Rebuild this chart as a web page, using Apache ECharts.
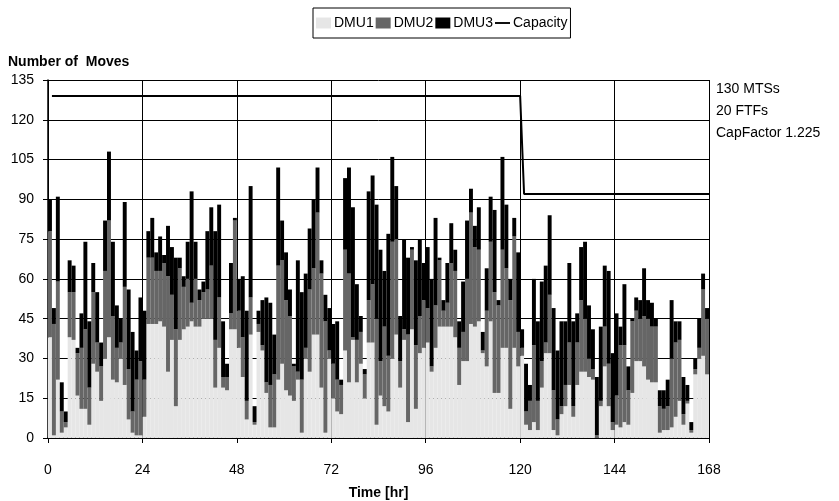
<!DOCTYPE html>
<html><head><meta charset="utf-8">
<script src="https://cdn.jsdelivr.net/npm/echarts@6/dist/echarts.min.js"></script>
<style>html,body{margin:0;padding:0;background:#fff}#c{width:839px;height:501px}</style>
</head><body><div id="c"></div>
<script>
const hours = Array.from({length:168}, (_, i) => String(i));
const xTicks = [0, 24, 48, 72, 96, 120, 144, 168];
const yTicks = [0, 15, 30, 45, 60, 75, 90, 105, 120, 135];
const dmu1 = [38,1,22,2,4,38,37,16,11,11,5,28,25,14,30,38,22,21,30,20,7,2,1,1,8,43,43,43,44,42,
25,37,12,37,41,42,44,42,42,45,45,45,19,34,19,18,41,41,34,23,7,39,5,40,33,17,4,4,22,28,
18,16,14,22,2,30,25,39,39,19,2,30,15,10,9,33,21,37,21,28,15,36,36,5,16,12,10,30,39,19,
37,6,41,11,32,34,36,25,34,42,42,42,42,38,20,29,29,43,42,44,32,27,44,17,17,34,34,11,34,27,
31,5,3,6,3,19,32,32,3,1,9,12,20,8,20,25,25,23,22,0,12,27,12,3,5,4,6,5,17,29,
29,27,22,21,21,2,3,3,4,8,14,5,13,2,24,30,31,24];
const dmu2 = [40,42,37,8,2,17,18,16,23,30,14,27,11,13,33,44,24,13,6,37,19,8,21,28,14,25,25,20,19,24,
36,17,29,27,16,18,7,18,10,10,11,20,18,19,4,5,6,41,14,15,7,14,1,3,2,4,16,20,43,39,
34,30,13,3,20,4,31,25,46,43,42,3,13,12,11,38,41,1,16,12,9,16,22,40,13,30,21,44,36,10,
4,33,30,24,14,18,13,2,16,25,6,9,24,25,14,11,31,42,30,27,1,21,30,38,33,37,30,41,42,13,
3,5,11,29,11,10,4,22,15,6,3,8,16,4,16,27,20,7,4,1,2,15,16,3,11,31,29,13,27,19,
16,19,23,21,21,10,8,9,26,28,23,4,1,1,2,4,25,21];
const dmu3 = [12,6,32,11,4,12,10,2,13,33,25,11,19,9,19,26,28,16,9,32,30,30,11,24,26,10,15,7,13,3,
19,18,27,4,4,14,42,14,4,4,22,22,41,35,21,5,19,1,12,23,34,42,6,5,17,32,31,15,37,15,
18,10,1,42,33,28,23,26,17,5,10,16,15,22,2,27,40,49,21,6,2,41,41,43,42,21,46,32,20,17,
34,29,1,32,29,14,23,33,33,1,4,15,15,8,10,19,22,9,8,16,7,16,17,31,2,35,24,8,7,30,
7,18,6,25,30,30,29,30,31,26,32,24,30,32,11,20,29,20,15,22,28,23,35,26,31,7,23,9,1,5,
7,18,7,9,3,6,7,10,22,8,7,14,6,3,4,11,6,4];
const capHours = [1, 120, 121, 168];
const capValues = [129, 129, 92, 92];
const notes = ['130 MTSs', '20 FTFs', 'CapFactor 1.225'];

const FONT = 'Liberation Sans, Arial, sans-serif';
const chart = echarts.init(document.getElementById('c'), null, {renderer: 'canvas'});
const grid = {left: 48, right: 130, top: 80, bottom: 63, containLabel: false, outerBoundsMode: 'none'};
chart.setOption({
  animation: false,
  backgroundColor: '#fff',
  textStyle: {fontFamily: FONT, color: '#000'},
  legend: {
    top: 8, left: 313,
    borderColor: '#000', borderWidth: 1, padding: [8, 3, 8, 3],
    itemGap: 2, itemWidth: 15, itemHeight: 11,
    textStyle: {fontFamily: FONT, fontSize: 14, color: '#000', padding: [0, 0, 0, -2]},
    data: [
      {name: 'DMU1', icon: 'rect'},
      {name: 'DMU2', icon: 'rect'},
      {name: 'DMU3', icon: 'rect'},
      {name: 'Capacity', icon: 'path://M0,0 L16,0 L16,2 L0,2 Z', itemStyle: {color: '#000'}}
    ]
  },
  grid: grid,
  xAxis: [
    {type: 'category', data: hours, show: false, boundaryGap: true},
    {type: 'value', min: 0, max: 168, interval: 24, position: 'bottom',
     axisLine: {show: true, onZero: false, lineStyle: {color: '#000', width: 1.5}},
     axisTick: {show: true, length: 5, lineStyle: {color: '#000'}},
     axisLabel: {fontSize: 14, color: '#000', margin: 25, fontFamily: FONT},
     splitLine: {show: true, lineStyle: {color: '#000', width: 1}},
     name: 'Time [hr]', nameLocation: 'middle', nameGap: 48,
     nameTextStyle: {fontSize: 14, fontWeight: 'bold', color: '#000', fontFamily: FONT}}
  ],
  yAxis: {
    type: 'value', min: 0, max: 135, interval: 15,
    axisLine: {show: true, lineStyle: {color: '#000', width: 1.5}},
    axisTick: {show: true, length: 5, lineStyle: {color: '#000'}},
    axisLabel: {fontSize: 14, color: '#000', margin: 14, fontFamily: FONT},
    splitLine: {show: true, lineStyle: {color: '#000', width: 1}}
  },
  graphic: [
    {type: 'text', left: 8, top: 55, style: {text: 'Number of  Moves', font: 'bold 14px ' + FONT, fill: '#000'}}
  ].concat(notes.map((t, i) => ({
    type: 'text', left: 716, top: 82 + i * 22,
    style: {text: t, font: '14px ' + FONT, fill: '#000'}
  }))),
  series: [
    {name: 'DMU1', type: 'bar', stack: 'm', xAxisIndex: 0, data: dmu1,
     barCategoryGap: '0%', itemStyle: {color: '#e6e6e6'}},
    {name: 'DMU2', type: 'bar', stack: 'm', xAxisIndex: 0, data: dmu2,
     barCategoryGap: '0%', itemStyle: {color: '#666666'}},
    {name: 'DMU3', type: 'bar', stack: 'm', xAxisIndex: 0, data: dmu3,
     barCategoryGap: '0%', itemStyle: {color: '#000000'}},
    {name: 'Capacity', type: 'line', xAxisIndex: 1, symbol: 'none',
     data: capHours.map((h, i) => [h, capValues[i]]),
     lineStyle: {color: '#000', width: 2}, itemStyle: {color: '#000'}}
  ]
});
</script></body></html>
